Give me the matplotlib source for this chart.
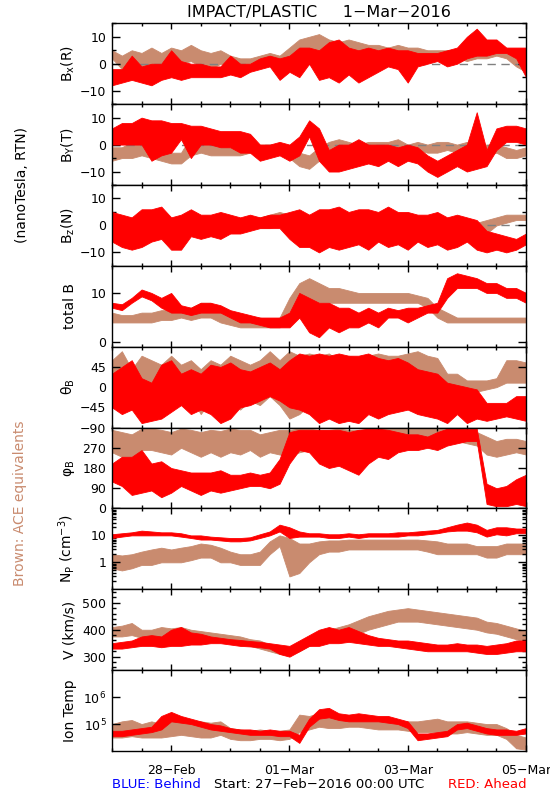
import numpy as np
import matplotlib
matplotlib.use('Agg')
import matplotlib.pyplot as plt
from matplotlib.ticker import MultipleLocator, NullFormatter, NullLocator, LogLocator

# time axis: 4-hourly samples from 27-Feb-2016 00:00 (days since start)
hours = np.arange(0, 169, 4)
days = hours / 24.

date_ticks = [1, 3, 5, 7]
date_labels = ['28\u2212Feb', '01\u2212Mar', '03\u2212Mar', '05\u2212Mar']

RED = '#ff0000'
BROWN = '#c98b6f'

# ---- envelopes (low / high) ----
# Bx (R), nT
bx_red_lo = [-8, -7, -6, -7, -8, -6, -5, -6, -5, -5, -5, -5, -4, -5, -3, -2, -1, -6, -3, -5, 0, -6, -5, -7, -4, -7, -5, -3, -1, -2, -7, -1, 0, 1, -1, 0, 2, 3, 3, 4, 4, 2, -5]
bx_red_hi = [-2, -2, 3, -1, 0, 0, 5, 1, 0, 0, -1, -1, 3, 0, 0, 2, 3, 2, 3, 6, 6, 5, 8, 9, 6, 5, 6, 5, 6, 5, 5, 4, 4, 4, 5, 6, 10, 13, 9, 9, 6, 6, 6]
bx_ace_lo = [2, -2, 0, -2, 0, -1, 0, 0, 1, -1, -2, 0, -1, -1, -1, 0, 0, 0, 1, 2, 3, 4, 3, 3, 2, 3, 3, 3, 3, 3, 3, 3, 2, 2, 1, 2, 1, 2, 2, 3, 2, -1, -3]
bx_ace_hi = [5, 3, 5, 4, 6, 4, 6, 5, 7, 5, 4, 5, 3, 2, 2, 3, 4, 3, 6, 9, 10, 11, 9, 8, 9, 8, 7, 7, 6, 7, 6, 6, 5, 5, 5, 5, 6, 6, 5, 5, 5, 2, 1]

# By (T), nT
by_red_lo = [0, 0, 0, 0, -6, -4, -3, 2, -5, 0, 0, -1, -1, -3, -3, -6, -5, -4, -6, -4, 3, -6, -10, -10, -9, -8, -7, -8, -6, -8, -6, -7, -10, -12, -10, -8, -10, -9, -8, -2, 1, 1, 0]
by_red_hi = [6, 8, 8, 10, 9, 9, 8, 8, 7, 7, 6, 5, 5, 5, 4, 0, 0, 1, 0, 3, 9, 6, -2, 0, 0, 2, 0, 0, 0, -1, 0, -1, -4, -6, -4, -2, 0, 12, -2, 6, 7, 7, 6]
by_ace_lo = [-6, -5, -5, -4, -5, -6, -7, -7, -4, -3, -4, -4, -4, -4, -3, -3, -3, -3, -5, -8, -9, -6, -4, -3, -4, -5, -4, -3, -3, -2, -3, -2, -3, -3, -2, -3, -2, -3, -4, -3, -5, -5, -4]
by_ace_hi = [-1, -1, 1, 3, 4, -2, -3, -3, 3, 2, 0, 0, -1, -1, 0, 0, 0, 0, -1, -3, -4, -1, 1, 2, 1, 0, 1, 1, 1, 2, 0, 1, 0, 1, 1, 0, 1, 0, 0, 0, -1, -2, -1]

# Bz (N), nT
bz_red_lo = [-6, -8, -9, -8, -6, -5, -9, -9, -4, -5, -4, -5, -3, -3, -2, -1, -1, -1, -5, -8, -8, -10, -8, -9, -8, -7, -9, -6, -8, -7, -9, -6, -8, -7, -9, -8, -6, -9, -10, -9, -10, -9, -7]
bz_red_hi = [5, 4, 3, 6, 6, 7, 3, 4, 6, 4, 4, 5, 4, 3, 4, 3, 4, 4, 5, 6, 4, 6, 6, 7, 5, 6, 6, 5, 7, 5, 5, 4, 4, 5, 3, 4, 3, 2, -2, -3, -4, -5, -3]
bz_ace_lo = [-2, -1, -3, -3, -2, -3, -2, -3, -2, -3, -2, -3, -2, -2, -1, -1, -1, 0, 0, -2, -3, -4, -3, -2, -3, -2, -3, -2, -2, -1, -2, -2, -3, -2, -3, -2, -3, -4, -3, 0, 1, 2, 2]
bz_ace_hi = [3, 3, 2, 3, 2, 3, 2, 2, 3, 2, 3, 2, 2, 2, 3, 3, 4, 5, 4, 4, 3, 3, 3, 4, 3, 3, 2, 3, 2, 3, 2, 3, 2, 2, 2, 3, 1, 1, 2, 3, 4, 4, 4]

# total B, nT
bt_red_lo = [7, 6.5, 8, 9.3, 8.5, 7, 6, 6, 5.5, 6, 6, 6, 5, 4, 4, 3.5, 3, 3, 3, 5, 2, 1, 3, 2, 3, 3, 4, 3, 5, 5, 4, 5, 6, 6, 9, 11, 11, 11, 10, 10, 9, 9, 8]
bt_red_hi = [8, 7.7, 9, 10.7, 10, 9, 10, 7.5, 7, 8, 8, 7.5, 6.5, 6, 5.5, 5, 5, 5, 6, 10, 9, 8, 8, 7, 7, 6, 7, 6, 7, 6.5, 7, 7, 7.5, 8, 13, 14, 13.5, 13, 12, 12, 11, 11, 10]
bt_ace_lo = [4, 4, 4, 4, 4, 4.5, 4.5, 5, 4.5, 5, 5, 4, 3.5, 3, 3, 3, 3, 3, 5, 7, 8, 8, 8, 8, 8, 8, 8, 8, 8, 8, 8, 8, 7, 5, 4, 4, 4, 4, 4, 4, 4, 4, 4]
bt_ace_hi = [6, 5.5, 5.5, 6, 6, 6.5, 6.5, 7, 7, 8, 8, 6.5, 5.5, 5, 5, 5, 4.5, 5, 9, 12, 13, 12, 11, 11, 10.5, 10, 10, 10, 10, 10, 10, 9.5, 9, 7, 6, 5, 5, 5, 5, 5, 5, 5, 5]

# theta_B, deg
th_red_lo = [-45, -60, -50, -80, -75, -70, -55, -40, -60, -50, -60, -80, -70, -45, -40, -30, -20, -30, -45, -50, -60, -80, -70, -80, -75, -80, -60, -70, -60, -55, -50, -60, -65, -70, -80, -60, -80, -70, -75, -70, -65, -70, -75]
th_red_hi = [30, 45, 60, 20, 10, 50, 60, 30, 40, 30, 50, 45, 55, 40, 35, 45, 55, 40, 60, 75, 70, 75, 70, 75, 70, 70, 75, 65, 60, 65, 55, 40, 35, 30, 10, 5, 0, -5, -35, -35, -35, -20, -20]
th_ace_lo = [-40, -30, -50, -40, -20, -45, -30, -40, -20, -60, -30, -40, -30, -50, -30, -40, -20, -40, -70, -60, -40, -40, -30, -40, -40, -30, -40, -35, -40, -30, -40, -40, -30, -35, -30, -35, -10, -10, -5, 0, 10, 10, 10]
th_ace_hi = [60, 80, 40, 70, 60, 50, 70, 50, 60, 40, 60, 50, 70, 60, 50, 60, 80, 60, 80, 70, 75, 70, 75, 60, 70, 65, 70, 75, 70, 70, 75, 80, 70, 65, 30, 30, 15, 15, 15, 20, 60, 60, 55]

# phi_B, deg
ph_red_lo = [120, 100, 60, 70, 80, 50, 70, 100, 80, 60, 80, 70, 80, 90, 100, 100, 90, 110, 200, 260, 250, 200, 180, 190, 170, 150, 200, 230, 220, 250, 260, 260, 270, 260, 280, 290, 300, 300, 20, 10, 10, 20, 10]
ph_red_hi = [200, 230, 230, 260, 200, 210, 180, 170, 160, 160, 160, 170, 150, 150, 160, 150, 160, 220, 340, 350, 350, 350, 350, 350, 340, 350, 355, 355, 350, 340, 330, 330, 320, 340, 355, 355, 355, 355, 110, 90, 100, 130, 150]
ph_ace_lo = [250, 230, 200, 260, 260, 250, 240, 270, 250, 230, 250, 230, 250, 240, 260, 230, 250, 240, 230, 250, 260, 260, 250, 260, 250, 260, 260, 250, 260, 270, 280, 290, 300, 300, 290, 300, 290, 280, 240, 230, 240, 250, 240]
ph_ace_hi = [350, 340, 330, 355, 355, 350, 340, 355, 350, 340, 350, 345, 355, 350, 350, 330, 340, 350, 350, 355, 355, 350, 350, 355, 350, 350, 345, 350, 355, 355, 355, 355, 355, 355, 355, 355, 350, 340, 320, 300, 310, 310, 300]

# Np, cm^-3
np_red_lo = [8, 9, 10, 10, 10, 10, 10, 9, 8, 7, 7, 6.5, 6, 6, 6.5, 8, 10, 14, 8, 9, 9, 9, 8, 8, 9, 8, 9, 9, 9, 9, 10, 10, 11, 12, 14, 15, 15, 13, 9, 11, 10, 12, 12]
np_red_hi = [11, 12, 13, 15, 14, 13, 13, 12, 10, 10, 9, 8.5, 8, 8, 8.5, 11, 14, 25, 20, 14, 12, 12, 11, 11, 12, 11, 12, 12, 12, 13, 13, 14, 15, 16, 20, 25, 30, 25, 16, 20, 20, 18, 18]
np_ace_lo = [0.6, 0.5, 0.6, 0.8, 0.8, 1, 1, 1, 1.2, 1.5, 1.5, 1, 1, 0.8, 0.8, 0.8, 2, 4, 0.3, 0.4, 1, 2, 2.5, 2.5, 3, 3, 3, 3, 3, 3, 3, 3, 2.5, 2, 2, 2, 2, 2, 1.5, 1.5, 2, 2, 2]
np_ace_hi = [2, 1.8, 2, 2.5, 3, 3.5, 3, 3.5, 4, 5, 4.5, 3.5, 2.5, 2, 2, 2.5, 6, 10, 8, 5, 5, 6, 6.5, 6.5, 7, 7, 7, 7, 7, 7, 7, 7, 6.5, 6, 5, 5, 5, 4, 4, 4, 5, 5, 5]

# V, km/s
v_red_lo = [330, 330, 335, 340, 340, 335, 340, 340, 345, 345, 350, 350, 345, 340, 338, 335, 330, 310, 300, 320, 340, 340, 350, 350, 355, 350, 345, 340, 340, 335, 330, 325, 320, 320, 320, 320, 320, 315, 310, 310, 315, 320, 320]
v_red_hi = [350, 355, 360, 375, 380, 375, 400, 410, 390, 385, 375, 370, 365, 362, 358, 355, 350, 345, 340, 360, 380, 400, 410, 400, 410, 395, 380, 370, 365, 360, 360, 355, 350, 345, 345, 350, 345, 345, 340, 345, 350, 360, 360]
v_ace_lo = [375, 375, 380, 370, 350, 360, 360, 355, 360, 360, 360, 355, 350, 345, 340, 330, 320, 310, 305, 320, 340, 350, 355, 360, 370, 385, 400, 410, 420, 430, 430, 430, 425, 420, 415, 410, 405, 400, 390, 385, 375, 365, 355]
v_ace_hi = [410, 415, 425, 400, 400, 410, 405, 410, 400, 395, 390, 385, 380, 375, 365, 360, 345, 335, 330, 355, 375, 390, 400, 410, 420, 435, 450, 460, 470, 475, 480, 475, 470, 465, 460, 455, 450, 445, 430, 425, 415, 405, 395]

# ion temperature, log10(K)
t_red_lo = [4.55, 4.55, 4.6, 4.65, 4.7, 4.8, 5.1, 5.05, 5.0, 4.9, 4.8, 4.75, 4.7, 4.65, 4.6, 4.6, 4.6, 4.55, 4.55, 4.3, 4.9, 5.2, 5.25, 5.15, 5.1, 5.1, 5.1, 5.1, 5.05, 5.0, 4.85, 4.4, 4.45, 4.5, 4.55, 4.8, 4.85, 4.75, 4.65, 4.6, 4.6, 4.6, 4.65]
t_red_hi = [4.75, 4.75, 4.8, 4.85, 4.9, 5.3, 5.45, 5.3, 5.2, 5.1, 5.0, 4.95, 4.85, 4.8, 4.8, 4.75, 4.8, 4.75, 4.75, 4.6, 5.2, 5.55, 5.6, 5.4, 5.35, 5.4, 5.35, 5.3, 5.3, 5.2, 5.1, 4.65, 4.65, 4.7, 4.75, 5.0, 5.05, 4.95, 4.85, 4.8, 4.8, 4.75, 4.85]
t_ace_lo = [4.5, 4.5, 4.55, 4.5, 4.5, 4.5, 4.55, 4.6, 4.55, 4.5, 4.5, 4.6, 4.45, 4.4, 4.4, 4.45, 4.45, 4.4, 4.45, 4.7, 4.8, 4.9, 4.85, 4.85, 4.9, 4.9, 4.85, 4.8, 4.8, 4.8, 4.75, 4.7, 4.7, 4.7, 4.65, 4.65, 4.7, 4.65, 4.6, 4.6, 4.45, 4.1, 4.05]
t_ace_hi = [5.0, 5.1, 5.15, 5.0, 5.1, 5.0, 5.2, 5.15, 5.1, 5.1, 5.05, 5.1, 4.85, 4.8, 4.75, 4.8, 4.75, 4.75, 4.8, 5.35, 5.3, 5.4, 5.3, 5.2, 5.25, 5.2, 5.2, 5.15, 5.1, 5.1, 5.1, 5.1, 5.15, 5.2, 5.1, 5.1, 5.1, 5.05, 5.0, 5.0, 4.85, 4.6, 4.5]

t_red_lo = 10 ** np.array(t_red_lo)
t_red_hi = 10 ** np.array(t_red_hi)
t_ace_lo = 10 ** np.array(t_ace_lo)
t_ace_hi = 10 ** np.array(t_ace_hi)

panels = [
    # label, ylim, ticks, ticklabels, minor step, log, zero line, ace, red
    ('B$_\\mathrm{x}$(R)', (-15, 15), [-10, 0, 10], None, 5, False, True,
     (bx_ace_lo, bx_ace_hi), (bx_red_lo, bx_red_hi)),
    ('B$_\\mathrm{Y}$(T)', (-15, 15), [-10, 0, 10], None, 5, False, True,
     (by_ace_lo, by_ace_hi), (by_red_lo, by_red_hi)),
    ('B$_\\mathrm{z}$(N)', (-15, 15), [-10, 0, 10], None, 5, False, True,
     (bz_ace_lo, bz_ace_hi), (bz_red_lo, bz_red_hi)),
    ('total B', (-0.93, 15.5), [0, 10], None, None, False, False,
     (bt_ace_lo, bt_ace_hi), (bt_red_lo, bt_red_hi)),
    ('\u03b8$_\\mathrm{B}$', (-90, 90), [-90, -45, 0, 45], None, None, False, False,
     (th_ace_lo, th_ace_hi), (th_red_lo, th_red_hi)),
    ('\u03c6$_\\mathrm{B}$', (0, 360), [0, 90, 180, 270], None, None, False, False,
     (ph_ace_lo, ph_ace_hi), (ph_red_lo, ph_red_hi)),
    ('N$_\\mathrm{P}$ (cm$^{-3}$)', (0.1, 100), [1, 10], ['1', '10'], None, True, False,
     (np_ace_lo, np_ace_hi), (np_red_lo, np_red_hi)),
    ('V (km/s)', (250, 550), [300, 400, 500], None, 20, False, False,
     (v_ace_lo, v_ace_hi), (v_red_lo, v_red_hi)),
    ('Ion Temp', (1e4, 1e7), [1e5, 1e6], ['10$^5$', '10$^6$'], None, True, False,
     (t_ace_lo, t_ace_hi), (t_red_lo, t_red_hi)),
]

plt.rcParams['font.family'] = 'DejaVu Sans'
plt.rcParams['axes.linewidth'] = 1.0

fig = plt.figure(figsize=(5.5, 8), dpi=100)
left, right = 112 / 550., 526 / 550.
top, bottom = 1 - 23.3 / 800., 1 - 751 / 800.
h = (top - bottom) / len(panels)

for k, (lab, ylim, ticks, tlabels, minor, logy, zero, ace, red) in enumerate(panels):
    ax = fig.add_axes([left, top - (k + 1) * h, right - left, h])
    if logy:
        ax.set_yscale('log')
    ax.fill_between(days, ace[0], ace[1], color=BROWN, lw=0.6, zorder=1)
    if zero:
        ax.axhline(0, color='#808080', lw=1.0, ls=(0, (6, 4)), zorder=1.5)
    ax.fill_between(days, red[0], red[1], color=RED, lw=0.6, zorder=2)

    ax.set_xlim(0, 7)
    ax.set_ylim(*ylim)
    if tlabels is None:
        ax.set_yticks(ticks)
    else:
        ax.set_yticks(ticks, labels=tlabels)
    if logy:
        if lab.startswith('N'):
            ax.yaxis.set_minor_locator(LogLocator(base=10, subs=np.arange(2, 10)))
        else:
            ax.yaxis.set_minor_locator(NullLocator())
        ax.yaxis.set_minor_formatter(NullFormatter())
    elif minor:
        ax.yaxis.set_minor_locator(MultipleLocator(minor))

    ax.set_xticks(date_ticks)
    ax.xaxis.set_minor_locator(MultipleLocator(0.5))
    if k == len(panels) - 1:
        ax.set_xticklabels(date_labels)
    else:
        ax.set_xticklabels([])

    ax.tick_params(axis='both', which='both', direction='in', top=True, right=True,
                   labelsize=9, colors='black')
    ax.tick_params(axis='y', which='major', length=6, width=1, pad=4)
    ax.tick_params(axis='y', which='minor', length=3, width=1)
    ax.tick_params(axis='x', which='major', length=4, width=1, pad=9)
    ax.tick_params(axis='x', which='minor', length=2.5, width=1)

    ax.set_ylabel(lab, fontsize=10)
    ax.yaxis.set_label_coords(-0.085, 0.5)

fig.text(319 / 550., 1 - 13 / 800., 'IMPACT/PLASTIC     1\u2212Mar\u22122016',
         ha='center', va='center', fontsize=11.5)
fig.text(22 / 550., 1 - 185 / 800., '(nanoTesla, RTN)', rotation=90,
         ha='center', va='center', fontsize=10)
fig.text(20 / 550., 1 - 503 / 800., 'Brown: ACE equivalents', rotation=90,
         ha='center', va='center', fontsize=10, color=BROWN)
fig.text(112 / 550., 1 - 784 / 800., 'BLUE: Behind', ha='left', va='center',
         fontsize=9.5, color='#0000ff')
fig.text(319 / 550., 1 - 784 / 800., 'Start: 27\u2212Feb\u22122016 00:00 UTC',
         ha='center', va='center', fontsize=9.5)
fig.text(527 / 550., 1 - 784 / 800., 'RED: Ahead', ha='right', va='center',
         fontsize=9.5, color=RED)

fig.savefig('out.png', dpi=100)
